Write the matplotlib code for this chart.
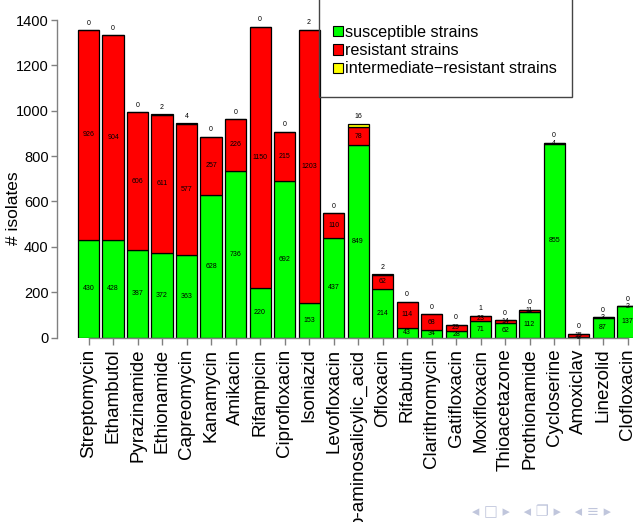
import matplotlib
matplotlib.use("Agg")
import matplotlib.pyplot as plt
import numpy as np
from matplotlib.patches import Rectangle

plt.rcParams["font.family"] = ["Liberation Sans", "DejaVu Sans"]

drugs = ["Streptomycin", "Ethambutol", "Pyrazinamide", "Ethionamide", "Capreomycin",
         "Kanamycin", "Amikacin", "Rifampicin", "Ciprofloxacin", "Isoniazid",
         "Levofloxacin", "p-aminosalicylic_acid", "Ofloxacin", "Rifabutin",
         "Clarithromycin", "Gatifloxacin", "Moxifloxacin", "Thioacetazone",
         "Prothionamide", "Cycloserine", "Amoxiclav", "Linezolid", "Clofloxacin"]
susceptible = [430, 428, 387, 372, 363, 628, 736, 220, 692, 153, 437, 849, 214, 43,
               34, 28, 71, 62, 112, 855, 2, 87, 137]
resistant = [926, 904, 606, 611, 577, 257, 226, 1150, 215, 1203, 110, 78, 62, 114,
             68, 29, 23, 14, 11, 4, 15, 3, 2]
intermediate = [0, 0, 0, 2, 4, 0, 0, 0, 0, 2, 0, 16, 2, 0,
                0, 0, 1, 0, 0, 0, 0, 0, 0]

W, H = 633, 522
fig = plt.figure(figsize=(W / 100, H / 100), dpi=100)
ax = fig.add_axes([57 / W, 1 - 337.5 / H, 1 - 57 / W, (337.5 - 20) / H])

x = np.arange(len(drugs))
sus = np.array(susceptible)
res = np.array(resistant)
inter = np.array(intermediate)
width = 0.86
kw = dict(width=width, edgecolor="black", linewidth=0.9)
b1 = ax.bar(x, sus, color="#00ff00", label="susceptible strains", **kw)
b2 = ax.bar(x, res, bottom=sus, color="#ff0000", label="resistant strains", **kw)
b3 = ax.bar(x, inter, bottom=sus + res, color="#ffff00",
            label="intermediate\u2212resistant strains", **kw)

# counts inside each segment, intermediate count on top
for i in x:
    ax.text(i, sus[i] / 2, str(sus[i]), ha="center", va="center", fontsize=5)
    ax.text(i, sus[i] + res[i] / 2, str(res[i]), ha="center", va="center", fontsize=5)
    ax.annotate(str(inter[i]), (i, sus[i] + res[i] + inter[i]), xytext=(0, 2.5),
                textcoords="offset points", ha="center", va="bottom", fontsize=5,
                annotation_clip=False)

ax.set_xlim(-1.286, 22.22)
ax.set_ylim(0, 1400)
ax.set_yticks(range(0, 1401, 200))
ax.set_xticks(x)
ax.set_xticklabels(drugs, rotation=90, va="top", ha="center", fontsize=13.5)
ax.tick_params(axis="y", labelsize=10.5, length=4, color="gray", width=1, pad=2)
ax.tick_params(axis="x", length=5, color="gray", width=1, pad=3)
for s in ["top", "right"]:
    ax.spines[s].set_visible(False)
ax.spines["left"].set_bounds(0, 1400)
ax.spines["bottom"].set_bounds(0, len(drugs) - 1)
for s in ["left", "bottom"]:
    ax.spines[s].set_color("gray")
    ax.spines[s].set_linewidth(1)
ax.patch.set_visible(False)

fig.text(14 / W, 1 - 208 / H, "# isolates", rotation=90, ha="center", va="center",
         fontsize=12.5)

# legend box
fig.add_artist(Rectangle((319 / W, 1 - 97 / H), (572 - 319) / W, 99 / H,
                         transform=fig.transFigure, fill=False, edgecolor="#444444",
                         linewidth=1))
leg = fig.legend(handles=[b1, b2, b3], loc="upper left",
                 bbox_to_anchor=(333 / W, 1 - 25 / H), frameon=False,
                 fontsize=11.6, handlelength=0.6, handleheight=0.6,
                 handletextpad=0.15, labelspacing=0.2, borderpad=0, borderaxespad=0)
for h in leg.legend_handles:
    h.set_edgecolor("black")
    h.set_linewidth(0.8)

# navigation symbols
fig.text(472 / W, 1 - 512 / H, "\u25c2 \u25a1 \u25b8   \u25c2 \u2750 \u25b8   \u25c2 \u2261 \u25b8",
         fontsize=10.5, color="#c0c6dc", family=["DejaVu Sans"], va="center")

fig.savefig("out.png", dpi=100)
